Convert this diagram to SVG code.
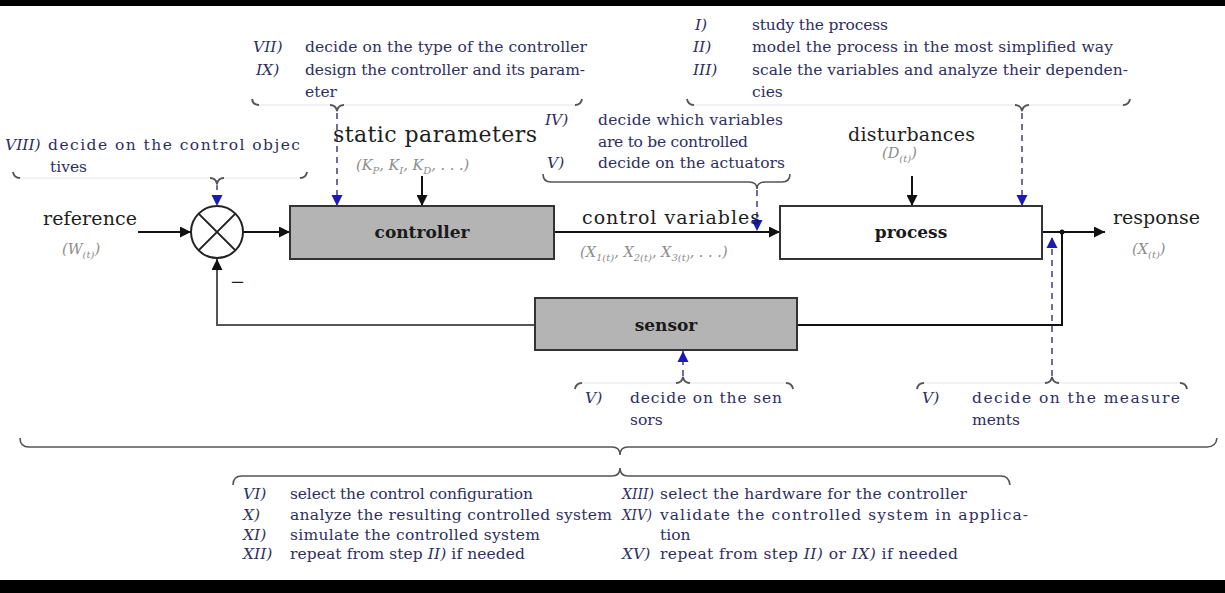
<svg xmlns="http://www.w3.org/2000/svg" width="1225" height="593" viewBox="0 0 1225 593">
<defs>
<style>
.ann{font-family:"DejaVu Serif","Liberation Serif",serif;font-size:15.5px;fill:#2f2f5f}
.num{font-style:italic}
.lbl{font-family:"DejaVu Serif","Liberation Serif",serif;font-size:19px;fill:#1e1e1e}
.big{font-size:22px}
.math{font-family:"DejaVu Serif","Liberation Serif",serif;font-style:italic;font-size:14.5px;fill:#8c8c8c}
.sub{font-size:10px}
.nodeT{font-family:"DejaVu Serif","Liberation Serif",serif;font-weight:bold;font-size:17px;fill:#1a1a1a;text-anchor:middle}
.box{stroke:#333;stroke-width:2}
.ln{stroke:#111;stroke-width:2;fill:none}
.fb{stroke:#555;stroke-width:2;fill:none}
.dash{stroke:#4a4a8c;stroke-width:1.6;stroke-dasharray:6 5;fill:none}
.br{stroke:#555;stroke-width:1.6;fill:none}
.tick{stroke:#555;stroke-width:1.8;fill:none}
.faint{stroke:#eeeef4;stroke-width:1.4;fill:none}
</style>
<marker id="ah" viewBox="0 0 10 10" refX="10" refY="5" markerWidth="11" markerHeight="11" markerUnits="userSpaceOnUse" orient="auto"><path d="M0,0 L10,5 L0,10 z" fill="#111"/></marker>
<marker id="ab" viewBox="0 0 10 10" refX="10" refY="5" markerWidth="11" markerHeight="12" markerUnits="userSpaceOnUse" orient="auto"><path d="M0,0 L10,5 L0,10 z" fill="#1a1ab4"/></marker>
</defs>
<rect x="0" y="0" width="1225" height="593" fill="#fff"/>
<rect x="0" y="0" width="1225" height="6" fill="#000"/>
<rect x="0" y="580" width="1225" height="13" fill="#000"/>

<g id="connectors">
<path class="ln" d="M138,232 H191" marker-end="url(#ah)"/>
<path class="ln" d="M243,232 H290" marker-end="url(#ah)"/>
<path class="ln" d="M422,176 V206" marker-end="url(#ah)"/>
<path class="ln" d="M554,232 H780" marker-end="url(#ah)"/>
<path class="ln" d="M912,176 V206" marker-end="url(#ah)"/>
<path class="ln" d="M1042,232 H1105" marker-end="url(#ah)"/>
<path class="ln" d="M1062,232 V325 H797"/>
<path class="fb" d="M535,325 H217 V259" marker-end="url(#ah)"/>
<circle cx="1062" cy="232" r="2.5" fill="#111"/>
<text x="230" y="288" class="lbl" style="font-size:18px">−</text>
<path class="dash" d="M337,113 V206" marker-end="url(#ab)"/>
<path class="dash" d="M217,184 V206" marker-end="url(#ab)"/>
<path class="dash" d="M1022,113 V206" marker-end="url(#ab)"/>
<path class="dash" d="M757,190 V231" marker-end="url(#ab)"/>
<path class="dash" d="M1052,376 V237" marker-end="url(#ab)"/>
<path class="dash" d="M683,376 V351" marker-end="url(#ab)"/>
</g>

<g id="sum">
<circle cx="217" cy="232" r="26" fill="#fff" stroke="#222" stroke-width="2"/>
<path d="M198.6,213.6 L235.4,250.4 M235.4,213.6 L198.6,250.4" stroke="#222" stroke-width="2"/>
</g>

<g id="controller">
<rect class="box" x="290" y="206" width="264" height="53" fill="#b4b4b4"/>
<text class="nodeT" x="422" y="238">controller</text>
</g>

<g id="process">
<rect class="box" x="780" y="206" width="262" height="53" fill="#fff"/>
<text class="nodeT" x="911" y="238">process</text>
</g>

<g id="sensor">
<rect class="box" x="535" y="298" width="262" height="52" fill="#b4b4b4"/>
<text class="nodeT" x="666" y="331">sensor</text>
</g>

<g id="signal-labels">
<text class="lbl" x="43" y="225" textLength="94">reference</text>
<text class="math" x="62" y="254">(W<tspan class="sub" dy="4">(t)</tspan><tspan dy="-4">)</tspan></text>
<text class="lbl big" x="333" y="142" textLength="204">static parameters</text>
<text class="math" x="356" y="170">(K<tspan class="sub" dy="4">P</tspan><tspan dy="-4">, K</tspan><tspan class="sub" dy="4">I</tspan><tspan dy="-4">, K</tspan><tspan class="sub" dy="4">D</tspan><tspan dy="-4">, . . .)</tspan></text>
<text class="lbl" x="582" y="224" textLength="178">control variables</text>
<text class="math" x="580" y="257">(X<tspan class="sub" dy="4">1(t)</tspan><tspan dy="-4">, X</tspan><tspan class="sub" dy="4">2(t)</tspan><tspan dy="-4">, X</tspan><tspan class="sub" dy="4">3(t)</tspan><tspan dy="-4">, . . .)</tspan></text>
<text class="lbl" x="848" y="141" textLength="127">disturbances</text>
<text class="math" x="882" y="158">(D<tspan class="sub" dy="4">(t)</tspan><tspan dy="-4">)</tspan></text>
<text class="lbl" x="1113" y="224" textLength="87">response</text>
<text class="math" x="1132" y="254">(X<tspan class="sub" dy="4">(t)</tspan><tspan dy="-4">)</tspan></text>
</g>

<g id="ann-controller-design">
<text class="ann num" x="253" y="52">VII)</text>
<text class="ann" x="305" y="52" textLength="282">decide on the type of the controller</text>
<text class="ann num" x="256" y="75">IX)</text>
<text class="ann" x="305" y="75" textLength="280">design the controller and its param-</text>
<text class="ann" x="305" y="97">eter</text>
<path class="faint" d="M252,99 q1,6 7,6 H329 q6,0 8,6 q2,-6 8,-6 H575 q6,0 7,-6"/>
<path class="tick" d="M252,99 q1,6 7,6"/>
<path class="tick" d="M582,99 q-1,6 -7,6"/>
<path class="tick" d="M330,105 q6,0 7,6 q1,-6 7,-6"/>
</g>

<g id="ann-objectives">
<text class="ann num" x="5" y="150">VIII)</text>
<text class="ann" x="48" y="150" textLength="252">decide on the control objec</text>
<text class="ann" x="50" y="172">tives</text>
<path class="faint" d="M13,172 q1,6 7,6 H209 q6,0 8,6 q2,-6 8,-6 H300 q6,0 7,-6"/>
<path class="tick" d="M13,172 q1,6 7,6"/>
<path class="tick" d="M307,172 q-1,6 -7,6"/>
<path class="tick" d="M210,178 q6,0 7,6 q1,-6 7,-6"/>
</g>

<g id="ann-process">
<text class="ann num" x="695" y="30">I)</text>
<text class="ann" x="752" y="30" textLength="136">study the process</text>
<text class="ann num" x="693" y="52">II)</text>
<text class="ann" x="752" y="52" textLength="361">model the process in the most simplified way</text>
<text class="ann num" x="693" y="75">III)</text>
<text class="ann" x="752" y="75" textLength="376">scale the variables and analyze their dependen-</text>
<text class="ann" x="752" y="97">cies</text>
<path class="faint" d="M687,99 q1,6 7,6 H1014 q6,0 8,6 q2,-6 8,-6 H1123 q6,0 7,-6"/>
<path class="tick" d="M687,99 q1,6 7,6"/>
<path class="tick" d="M1130,99 q-1,6 -7,6"/>
<path class="tick" d="M1015,105 q6,0 7,6 q1,-6 7,-6"/>
</g>

<g id="ann-variables">
<text class="ann num" x="545" y="125">IV)</text>
<text class="ann" x="598" y="125" textLength="185">decide which variables</text>
<text class="ann" x="598" y="147" textLength="150">are to be controlled</text>
<text class="ann num" x="547" y="168">V)</text>
<text class="ann" x="598" y="168" textLength="187">decide on the actuators</text>
<path class="br" d="M543,174 q0,8 8,8 H749 q8,0 8,7 q0,-7 8,-7 H782 q8,0 8,-8"/>
</g>

<g id="ann-sensors">
<path class="faint" d="M575,389 q1,-6 7,-6 H676 q6,0 7,-6 q1,6 7,6 H786 q6,0 7,6"/>
<path class="tick" d="M575,389 q1,-6 7,-6"/>
<path class="tick" d="M793,389 q-1,-6 -7,-6"/>
<path class="tick" d="M676,383 q6,0 7,-6 q1,6 7,6"/>
<text class="ann num" x="585" y="403">V)</text>
<text class="ann" x="630" y="403" textLength="152">decide on the sen</text>
<text class="ann" x="630" y="425">sors</text>
</g>

<g id="ann-measurements">
<path class="faint" d="M917,389 q1,-6 7,-6 H1045 q6,0 7,-6 q1,6 7,6 H1180 q6,0 7,6"/>
<path class="tick" d="M917,389 q1,-6 7,-6"/>
<path class="tick" d="M1187,389 q-1,-6 -7,-6"/>
<path class="tick" d="M1045,383 q6,0 7,-6 q1,6 7,6"/>
<text class="ann num" x="922" y="403">V)</text>
<text class="ann" x="972" y="403" textLength="208">decide on the measure</text>
<text class="ann" x="972" y="425">ments</text>
</g>

<g id="ann-overall">
<path class="br" d="M20,438 q0,9 9,9 H612 q8,0 8,8 q0,-8 8,-8 H1207 q9,0 10,-9"/>
<path class="br" d="M233,485 q0,-9 9,-9 H612 q8,0 8,-8 q0,8 8,8 H1001 q8,0 9,9"/>
<text class="ann num" x="243" y="499">VI)</text>
<text class="ann" x="290" y="499" textLength="243">select the control configuration</text>
<text class="ann num" x="243" y="520">X)</text>
<text class="ann" x="290" y="520" textLength="322">analyze the resulting controlled system</text>
<text class="ann num" x="243" y="540">XI)</text>
<text class="ann" x="290" y="540" textLength="250">simulate the controlled system</text>
<text class="ann num" x="243" y="559">XII)</text>
<text class="ann" x="290" y="559" textLength="235">repeat from step <tspan class="num">II)</tspan> if needed</text>
<text class="ann num" x="622" y="499" textLength="32" lengthAdjust="spacingAndGlyphs">XIII)</text>
<text class="ann" x="660" y="499" textLength="307">select the hardware for the controller</text>
<text class="ann num" x="622" y="520" textLength="30" lengthAdjust="spacingAndGlyphs">XIV)</text>
<text class="ann" x="660" y="520" textLength="368">validate the controlled system in applica-</text>
<text class="ann" x="660" y="540">tion</text>
<text class="ann num" x="622" y="559">XV)</text>
<text class="ann" x="660" y="559" textLength="298">repeat from step <tspan class="num">II)</tspan> or <tspan class="num">IX)</tspan> if needed</text>
</g>
</svg>
